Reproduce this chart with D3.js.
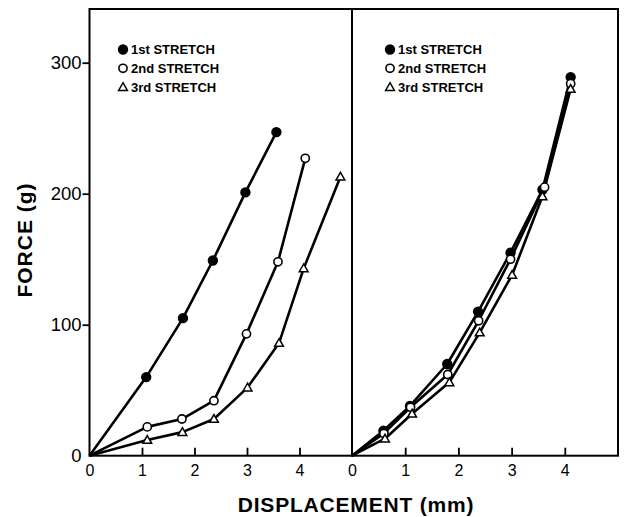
<!DOCTYPE html>
<html>
<head>
<meta charset="utf-8">
<script src="https://cdn.jsdelivr.net/npm/d3@7"></script>
<style>
    body { margin: 0; background: #fff; }
    svg text { font-family: "Liberation Sans", Arial, sans-serif; fill: #000; }
</style>
</head>
<body>
<div id="chart"></div>
<script>
// values: displacement (mm), force (g)
const leftFirst  = [[0, 0], [1.08, 60], [1.78, 105], [2.35, 149], [2.97, 201], [3.56, 247]];
const leftSecond = [[0, 0], [1.10, 22], [1.76, 28], [2.37, 42], [2.99, 93], [3.59, 148], [4.11, 227]];
const leftThird  = [[0, 0], [1.10, 12], [1.77, 18], [2.37, 28], [3.01, 52], [3.61, 86], [4.08, 143], [4.78, 213]];

const rightFirst  = [[0, 0], [0.59, 19], [1.09, 38], [1.79, 70], [2.37, 110], [2.98, 155], [3.58, 203], [4.11, 289]];
const rightSecond = [[0, 0], [0.60, 17], [1.10, 37], [1.80, 62], [2.38, 103], [2.98, 150], [3.62, 205], [4.11, 284]];
const rightThird  = [[0, 0], [0.62, 13], [1.13, 32], [1.83, 56], [2.40, 94], [3.01, 138], [3.58, 198], [4.11, 280]];

const legendLabels = ['1st STRETCH', '2nd STRETCH', '3rd STRETCH'];
const markerKinds = ['filled', 'open', 'triangle'];
const xTickValues = [0, 1, 2, 3, 4];
const yTickValues = [0, 100, 200, 300];

const width = 624, height = 517;
const plotTop = 9, plotBottom = 455.7;
const panels = [
    { x0: 89.5, x1: 352, series: [leftFirst, leftSecond, leftThird], legendX: 123, yAxis: true },
    { x0: 352, x1: 618, series: [rightFirst, rightSecond, rightThird], legendX: 390, yAxis: false }
];

const svg = d3.select('#chart')
    .append('svg')
    .attr('width', width)
    .attr('height', height)
;

const y = d3.scaleLinear()
    .domain([0, 341])
    .range([plotBottom, plotTop])
;

function drawMarker(g, kind, cx, cy) {
    if (kind === 'triangle') {
        const s = 4.4;
        g.append('path')
            .attr('d', `M${cx},${cy - s} L${cx + s},${cy + s * 0.75} L${cx - s},${cy + s * 0.75} Z`)
            .attr('fill', '#fff')
            .attr('stroke', '#000')
            .attr('stroke-width', 1.5)
        ;
    } else {
        g.append('circle')
            .attr('cx', cx)
            .attr('cy', cy)
            .attr('r', kind === 'filled' ? 4.4 : 4.1)
            .attr('fill', kind === 'filled' ? '#000' : '#fff')
            .attr('stroke', '#000')
            .attr('stroke-width', 1.6)
        ;
    }
}

panels.forEach(p => {
    let x = d3.scaleLinear()
        .domain([0, 5])
        .range([p.x0, p.x1])
    ;

    // x-axis: ticks point inward, labels below
    let xAxis = d3.axisBottom(x)
        .tickValues(xTickValues)
        .tickSize(-8)
        .tickPadding(9)
        .tickFormat(d => d)
    ;
    let gx = svg.append('g')
        .attr('transform', `translate(0, ${plotBottom})`)
        .call(xAxis)
    ;
    gx.select('.domain').remove();
    gx.selectAll('.tick line')
        .attr('stroke-width', 1.8)
        .filter(d => d === 0).remove()
    ;
    gx.selectAll('.tick text')
        .style('font-size', '16px')
    ;

    if (p.yAxis) {
        let yAxis = d3.axisLeft(y)
            .tickValues(yTickValues)
            .tickSize(7)
            .tickPadding(1)
        ;
        let gy = svg.append('g')
            .attr('transform', `translate(${p.x0}, 0)`)
            .call(yAxis)
        ;
        gy.select('.domain').remove();
        gy.selectAll('.tick line')
            .attr('stroke-width', 1.8)
            .filter(d => d === 0).remove()
        ;
        gy.selectAll('.tick text')
            .style('font-size', '18.5px')
        ;
    }

    // panel frame
    svg.append('rect')
        .attr('x', p.x0)
        .attr('y', plotTop)
        .attr('width', p.x1 - p.x0)
        .attr('height', plotBottom - plotTop)
        .attr('fill', 'none')
        .attr('stroke', '#000')
        .attr('stroke-width', 2)
    ;

    let line = d3.line()
        .x(d => x(d[0]))
        .y(d => y(d[1]))
    ;

    // lines first, then markers on top
    p.series.forEach(s => {
        svg.append('path')
            .datum(s)
            .attr('d', line)
            .attr('fill', 'none')
            .attr('stroke', '#000')
            .attr('stroke-width', 2.6)
            .attr('stroke-linejoin', 'round')
        ;
    });
    p.series.forEach((s, i) => {
        let g = svg.append('g');
        s.slice(1).forEach(d => drawMarker(g, markerKinds[i], x(d[0]), y(d[1])));
    });

    // legend
    let legend = svg.append('g');
    legendLabels.forEach((label, i) => {
        let ly = 49.5 + i * 18.8;
        drawMarker(legend, markerKinds[i], p.legendX, ly);
        legend.append('text')
            .attr('x', p.legendX + 8)
            .attr('y', ly + 4.5)
            .style('font-size', '13px')
            .style('font-weight', 'bold')
            .text(label)
        ;
    });
});

// axis titles
svg.append('text')
    .attr('x', 356)
    .attr('y', 512)
    .attr('text-anchor', 'middle')
    .style('font-size', '21px')
    .style('font-weight', 'bold')
    .style('letter-spacing', '0.8px')
    .text('DISPLACEMENT (mm)')
;
svg.append('text')
    .attr('transform', 'translate(32, 240) rotate(-90)')
    .attr('text-anchor', 'middle')
    .style('font-size', '21px')
    .style('font-weight', 'bold')
    .style('letter-spacing', '1px')
    .text('FORCE (g)')
;
</script>
</body>
</html>
